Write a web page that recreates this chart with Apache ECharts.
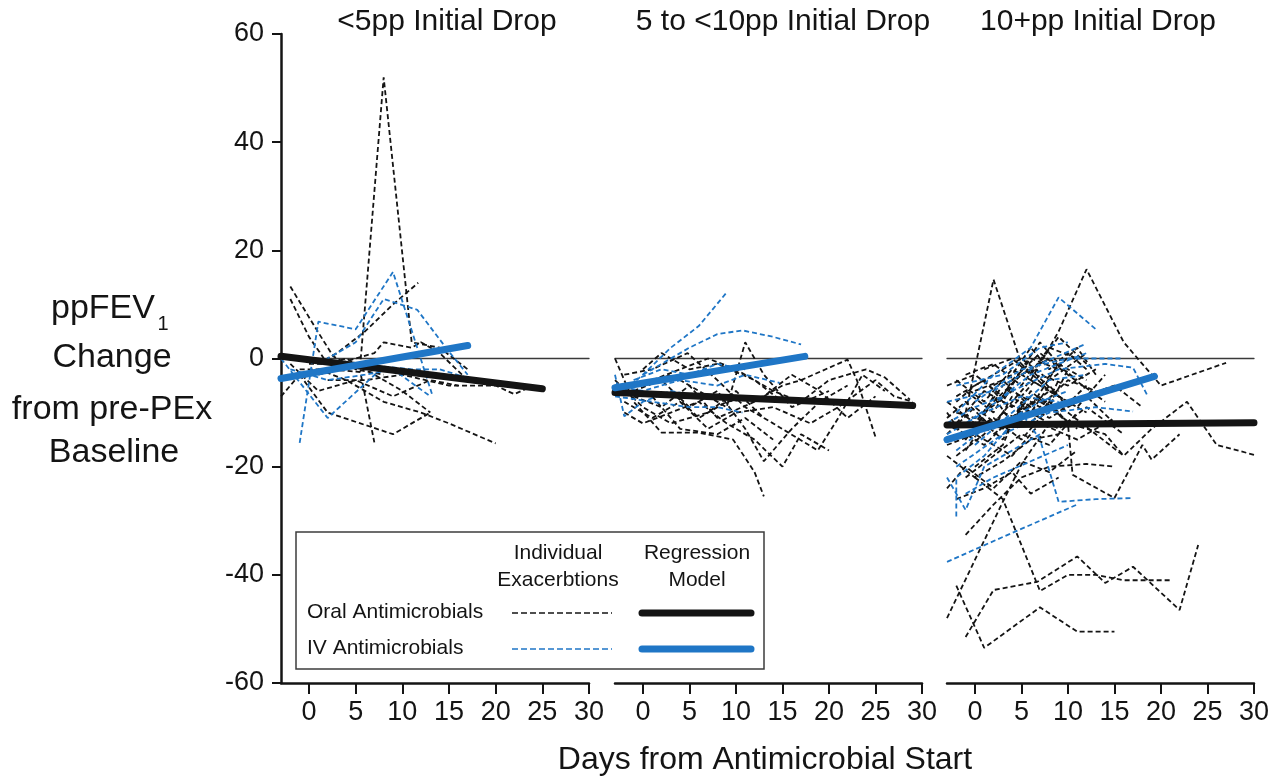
<!DOCTYPE html>
<html>
<head>
<meta charset="utf-8">
<script src="https://cdn.jsdelivr.net/npm/echarts@6/dist/echarts.min.js"></script>
<style>
html,body{margin:0;padding:0;background:#fff;}
#chart{width:1272px;height:784px;}
</style>
</head>
<body>
<div id="chart"></div>
<script>
// ---------- DATA ----------
const panelTitles = ['<5pp Initial Drop', '5 to <10pp Initial Drop', '10+pp Initial Drop'];
const xTickValues = [0, 5, 10, 15, 20, 25, 30];
const zeroLine = [[-3, 0], [30, 0]];

// Panel 1 (<5pp)
const p1Oral = [
  [[1,-3],[5.5,-1],[8,52],[11,3],[14,2],[17,-2]],
  [[-2,13.3],[1,4.8],[2.6,0.4],[5,-2],[8,-3]],
  [[-2,11],[0,4],[2,-1],[4,0],[7,-3],[10,-6],[13,-10]],
  [[1,-1],[3,1],[6,5],[9,10],[11.7,14]],
  [[-1,-3],[2,-10],[9,-14],[13,-10]],
  [[-1,-2],[2,-2],[5.5,-2.5],[7,-15.5]],
  [[-3,-7],[-1,-3],[1,-2],[4,-4],[8,-8],[12,-10],[15,-12],[20,-15.7]],
  [[2,-4],[6,-4],[10,-3],[15,-5],[20,-5],[22,-6.6],[24,-5]],
  [[0,-1],[3,-1],[7,1],[8,3],[11,2],[12,3],[14,1],[17,-4]],
  [[-2,-1],[1,-6],[5,-4],[9,-7],[13,-4],[16,-5]]
];
const p1IV = [
  [[-1,-15.6],[1,6.8],[5,5.4],[9,16],[13.2,-6.7]],
  [[-3,0],[2,-11],[8,-1.5],[11,-2],[14,-2],[17,-3.6]],
  [[1,-1],[5,3],[8,11],[11.6,9],[14.8,1.7],[17,-3]],
  [[-2,-2],[2,-4],[6,-3],[9,-2],[13,-7]]
];
const p1RegOral = [[-3,0.4],[25,-5.6]];
const p1RegIV = [[-3,-3.7],[17,2.4]];

// Panel 2 (5 to <10pp)
const p2Oral = [
  [[-3,0],[-1,-8],[2,-13.7],[6,-13.7],[9.7,-15],[12,-21],[13,-25.5]],
  [[-2,-3],[1,-2],[4.8,1],[8,-4],[11,-9],[14,-12],[18.8,-17],[21,-11],[23.6,-3],[26,-6]],
  [[0,-5],[3,-3],[6,-6],[9,-9],[11,3],[13,-3],[16,-9],[20,-6]],
  [[-1,-7],[2,-9],[5,-5],[8,-11],[12,-8],[15,-5],[17,-4],[22,-0.2],[23,-4],[25,-14.5]],
  [[1,-4],[4,-2],[7,0],[10,-2],[14,-6],[17,-8],[20,-4],[24,-2],[26,-3.5],[28.7,-7.6]],
  [[-2,-10],[0,-12],[3,-10],[6,-8],[9,-12],[12,-15],[15,-20],[17,-14],[20,-17]],
  [[-1,-6],[2,-4],[5,-9],[8,-6],[11,-13],[13,-19],[16,-13],[19,-8],[22,-5]],
  [[0,-2],[2,1],[5,-2],[8,-1],[12,-4],[15,-8]],
  [[-2,-8],[1,-11],[4,-8],[7,-13],[10,-10],[14,-9],[18,-12],[21,-9],[25,-4],[27,-7],[29,-8]],
  [[3,-6],[6,-11],[9,-8],[13,-7],[16,-3],[19,-6],[22,-11],[25,-7]],
  [[-3,-4],[0,-9],[3,-12],[7,-10],[10,-6],[13,-11]],
  [[1,-7],[4,-13],[8,-14],[11,-11],[14,-15]]
];
const p2IV = [
  [[-2,-6],[0,-3],[3,2],[6,6],[9,12.2]],
  [[0,-3],[2,-1],[5,2],[8,4.5],[10.7,5.2],[14,4],[17,2.6]],
  [[-3,-5],[0,-6],[4,-4],[8,-5],[11,-3],[14.7,-4.5]],
  [[-3,-7],[1,-8],[5,-9],[8,-9],[10.7,-10]],
  [[-3,-3],[-2,-10.7],[0,-8],[3,-6],[6,-7]],
  [[-1,-4],[2,-2],[5,-3],[8,-1],[11,-2]]
];
const p2RegOral = [[-3,-6.3],[29,-8.7]];
const p2RegIV = [[-3,-5.4],[17.4,0.4]];

// Panel 3 (10+pp)
const p3Oral = [
  [[-1,-10],[2,14.6],[5,-1],[8,-6],[12,-10]],
  [[6,-4],[9,5],[12,16.5],[16,3],[20,-5],[27,-0.8]],
  [[10,-10],[13,-14],[16,-18],[19,-13],[22.8,-8],[26,-16],[30,-17.8]],
  [[-3,-48],[3,-26.5],[5,-19.6],[8,-12]],
  [[-1,-51.5],[2,-42.8],[6.7,-41.3],[11,-36.6],[14,-41.5],[17,-38.5],[22,-46.5],[24,-34.5]],
  [[-2,-42],[1,-53.5],[7,-46],[11,-50.5],[15,-50.5]],
  [[0,-22],[3,-26],[7,-43],[10,-40],[13,-40],[16,-41],[21,-41]],
  [[-1,-32.6],[2,-27],[5,-22],[8,-20],[12,-19.5],[15,-20]],
  [[8,-8],[10,-12],[10.5,-21.5],[15,-25.8],[18,-16],[19,-18.7],[22,-14]],
  [[-3,-8],[0,-12],[3,-5],[6,-2],[9,-7]],
  [[-2,-12],[1,-6],[4,-9],[7,-3],[10,-5],[13,-2]],
  [[-3,-10],[-1,-15],[2,-8],[5,-3],[8,0],[11,-4]],
  [[-2,-18],[1,-14],[3,-10],[6,-12],[9,-6]],
  [[-1,-6],[2,-10],[4,-4],[7,1],[10,-3],[14,-8]],
  [[-3,-14],[0,-9],[3,-13],[6,-7],[9,-10],[12,-5]],
  [[-2,-4],[1,-8],[4,-2],[7,-5],[11,2],[13,-3]],
  [[0,-20],[3,-16],[5,-8],[8,-11],[12,-7],[15,-12]],
  [[-3,-5],[0,-3],[3,-7],[6,0],[9,-2]],
  [[-1,-22],[2,-18],[5,-14],[8,-16],[11,-10]],
  [[-3,-12],[1,-16],[4,-11],[7,-7],[10,-12],[14,-14],[16,-18]],
  [[-2,-8],[0,-5],[3,-2],[5,0],[8,-4],[12,1]],
  [[-1,-14],[2,-11],[5,-15],[8,-9],[11,-13]],
  [[1,-10],[4,-6],[7,-9],[10,-4],[13,-6]],
  [[-3,-18],[0,-22],[3,-19],[6,-15],[9,-14]],
  [[-2,-10],[2,-12],[6,-4],[10,-8],[15,-5],[18,-9]],
  [[0,-6],[3,-4],[6,-9],[9,-1],[12,-4]],
  [[-3,-24],[-1,-20],[2,-24],[5,-19],[8,-21],[11,-17]],
  [[2,-14],[5,-10],[8,-6],[11,-9],[14,-3]],
  [[-1,-3],[2,-1],[5,-5],[8,2],[11,0]],
  [[-3,-16],[0,-14],[4,-18],[7,-12],[11,-15],[15,-11]],
  [[-2,-26],[1,-24],[4,-21],[6,-25],[9,-22]],
  [[1,-2],[4,0],[6,-3],[9,4],[12,-1]],
  [[3,-8],[6,-10],[9,-13],[12,-9],[16,-14]],
  [[-2,-7],[1,-4],[3,-8],[5,-2],[7,3],[9,-1]],
  [[-3,-11],[-1,-8],[2,-13],[4,-7],[6,-10],[8,-5],[10,-9]],
  [[0,-13],[2,-7],[4,-12],[6,-6],[8,-9],[10,-2]],
  [[-1,-17],[1,-12],[3,-15],[5,-9],[7,-11],[9,-4]],
  [[2,-5],[4,-3],[6,2],[8,-2],[10,1],[12,-2]]
];
const p3IV = [
  [[-3,-37.6],[3,-33],[7,-30],[11,-27]],
  [[-2,-29.2],[-2,-22],[1,-18],[5,-10],[7,-15],[9,-26.5],[13,-26],[17,-25.8]],
  [[-2,-10],[2,-3],[6,2],[9,11.3],[13,5.4]],
  [[-1,-12],[4,-6],[9,-2],[14,-1],[17,-1.7],[18.5,-6.7]],
  [[0,-8],[5,-2],[10,0],[15.7,0]],
  [[-2,-20],[3,-14],[8,-10],[13,-9],[17,-9.8]],
  [[-3,-8],[2,-6],[7,-1],[11.8,2.6]],
  [[-3,-22],[-1,-28],[1,-20],[4,-17],[7,-14]],
  [[-2,-5],[3,-3],[7,2],[10,3]],
  [[-3,-14],[1,-10],[5,-7],[9,-8]],
  [[-1,-25],[2,-22],[6,-19],[10,-16]],
  [[0,-16],[4,-10],[8,-4],[12,-3]],
  [[-3,-12],[0,-9],[3,-7],[6,-3],[9,-1],[12,1]],
  [[-2,-17],[1,-13],[4,-11],[7,-8],[10,-6]]
];
const p3RegOral = [[-3,-12.3],[30,-11.9]];
const p3RegIV = [[-3,-15],[19.3,-3.3]];

// ---------- STYLE ----------
const BLACK = '#141414';
const BLUE = '#1f76c6';
const SANS = "'Liberation Sans', Arial, sans-serif";
const NARROW = "'Liberation Sans Narrow', 'Arial Narrow', 'Liberation Sans', sans-serif";

const panels = [
  {oral: p1Oral, iv: p1IV, regOral: p1RegOral, regIV: p1RegIV},
  {oral: p2Oral, iv: p2IV, regOral: p2RegOral, regIV: p2RegIV},
  {oral: p3Oral, iv: p3IV, regOral: p3RegOral, regIV: p3RegIV}
];
const gridLefts = [281, 615, 947];
const gridWidths = [308, 307, 308];

const grid = gridLefts.map((l, i) => ({left: l, width: gridWidths[i], top: 34, height: 649}));
const xAxis = grid.map((g, i) => ({
  type: 'value', gridIndex: i, min: -3, max: 30,
  axisLine: {show: true, onZero: false, lineStyle: {color: BLACK, width: 2.5}},
  axisTick: {show: true, length: 11, customValues: xTickValues, lineStyle: {color: BLACK, width: 2}},
  axisLabel: {show: true, customValues: xTickValues, fontSize: 27, fontFamily: NARROW, color: BLACK, margin: 16},
  splitLine: {show: false}
}));
const yAxis = grid.map((g, i) => ({
  type: 'value', gridIndex: i, min: -60, max: 60, interval: 20,
  show: i === 0,
  axisLine: {show: true, onZero: false, lineStyle: {color: BLACK, width: 2.5}},
  axisTick: {show: true, length: 9, lineStyle: {color: BLACK, width: 2}},
  axisLabel: {fontSize: 27, fontFamily: NARROW, color: BLACK, margin: 17},
  splitLine: {show: false}
}));

const series = [];
function addLine(data, idx, color, width, dashed, z) {
  series.push({
    type: 'line', xAxisIndex: idx, yAxisIndex: idx, data: data,
    showSymbol: false, symbol: 'none', silent: true, z: z,
    lineStyle: {color: color, width: width, type: dashed ? [5, 3] : 'solid', cap: dashed ? 'butt' : 'round'}
  });
}
panels.forEach((p, i) => {
  addLine(zeroLine, i, '#3a3a3a', 1.3, false, 1);
  p.oral.forEach(d => addLine(d, i, BLACK, 1.8, true, 2));
  p.iv.forEach(d => addLine(d, i, BLUE, 1.8, true, 3));
  addLine(p.regOral, i, BLACK, 7, false, 4);
  addLine(p.regIV, i, BLUE, 7, false, 5);
});

// ---------- GRAPHIC (titles, axis titles, legend) ----------
function txt(text, x, y, size, align, font) {
  return {type: 'text', x: x, y: y, silent: true, z: 10,
    style: {text: text, font: size + 'px ' + (font || SANS), fill: BLACK, align: align || 'center', verticalAlign: 'middle'}};
}
const titleCenters = [447, 783, 1098];
const graphic = [];
panelTitles.forEach((t, i) => graphic.push(txt(t, titleCenters[i], 22, 30)));
graphic.push(txt('ppFEV', 103, 309, 34));
graphic.push(txt('1', 163, 324, 20));
graphic.push(txt('Change', 112, 358, 34));
graphic.push(txt('from pre-PEx', 112, 410, 34));
graphic.push(txt('Baseline', 114, 453, 34));
graphic.push(txt('Days from Antimicrobial Start', 765, 760, 32));
// legend
graphic.push({type: 'rect', silent: true, z: 9, shape: {x: 296, y: 532, width: 468, height: 137},
  style: {fill: '#fff', stroke: '#3c3c3c', lineWidth: 1.5}});
graphic.push(txt('Individual', 558, 553, 21));
graphic.push(txt('Exacerbtions', 558, 580, 21));
graphic.push(txt('Regression', 697, 553, 21));
graphic.push(txt('Model', 697, 580, 21));
graphic.push(txt('Oral Antimicrobials', 307, 612, 21, 'left'));
graphic.push(txt('IV Antimicrobials', 307, 648, 21, 'left'));
graphic.push({type: 'line', silent: true, z: 10, shape: {x1: 512, y1: 613, x2: 612, y2: 613}, style: {stroke: BLACK, lineWidth: 1.5, lineDash: [6, 3]}});
graphic.push({type: 'line', silent: true, z: 10, shape: {x1: 512, y1: 649, x2: 612, y2: 649}, style: {stroke: BLUE, lineWidth: 1.5, lineDash: [6, 3]}});
graphic.push({type: 'line', silent: true, z: 10, shape: {x1: 642, y1: 613, x2: 751, y2: 613}, style: {stroke: BLACK, lineWidth: 7, lineCap: 'round'}});
graphic.push({type: 'line', silent: true, z: 10, shape: {x1: 642, y1: 649, x2: 751, y2: 649}, style: {stroke: BLUE, lineWidth: 7, lineCap: 'round'}});

const chart = echarts.init(document.getElementById('chart'), null, {renderer: 'canvas'});
chart.setOption({
  animation: false,
  backgroundColor: '#fff',
  grid: grid, xAxis: xAxis, yAxis: yAxis, series: series, graphic: graphic
});
</script>
</body>
</html>
